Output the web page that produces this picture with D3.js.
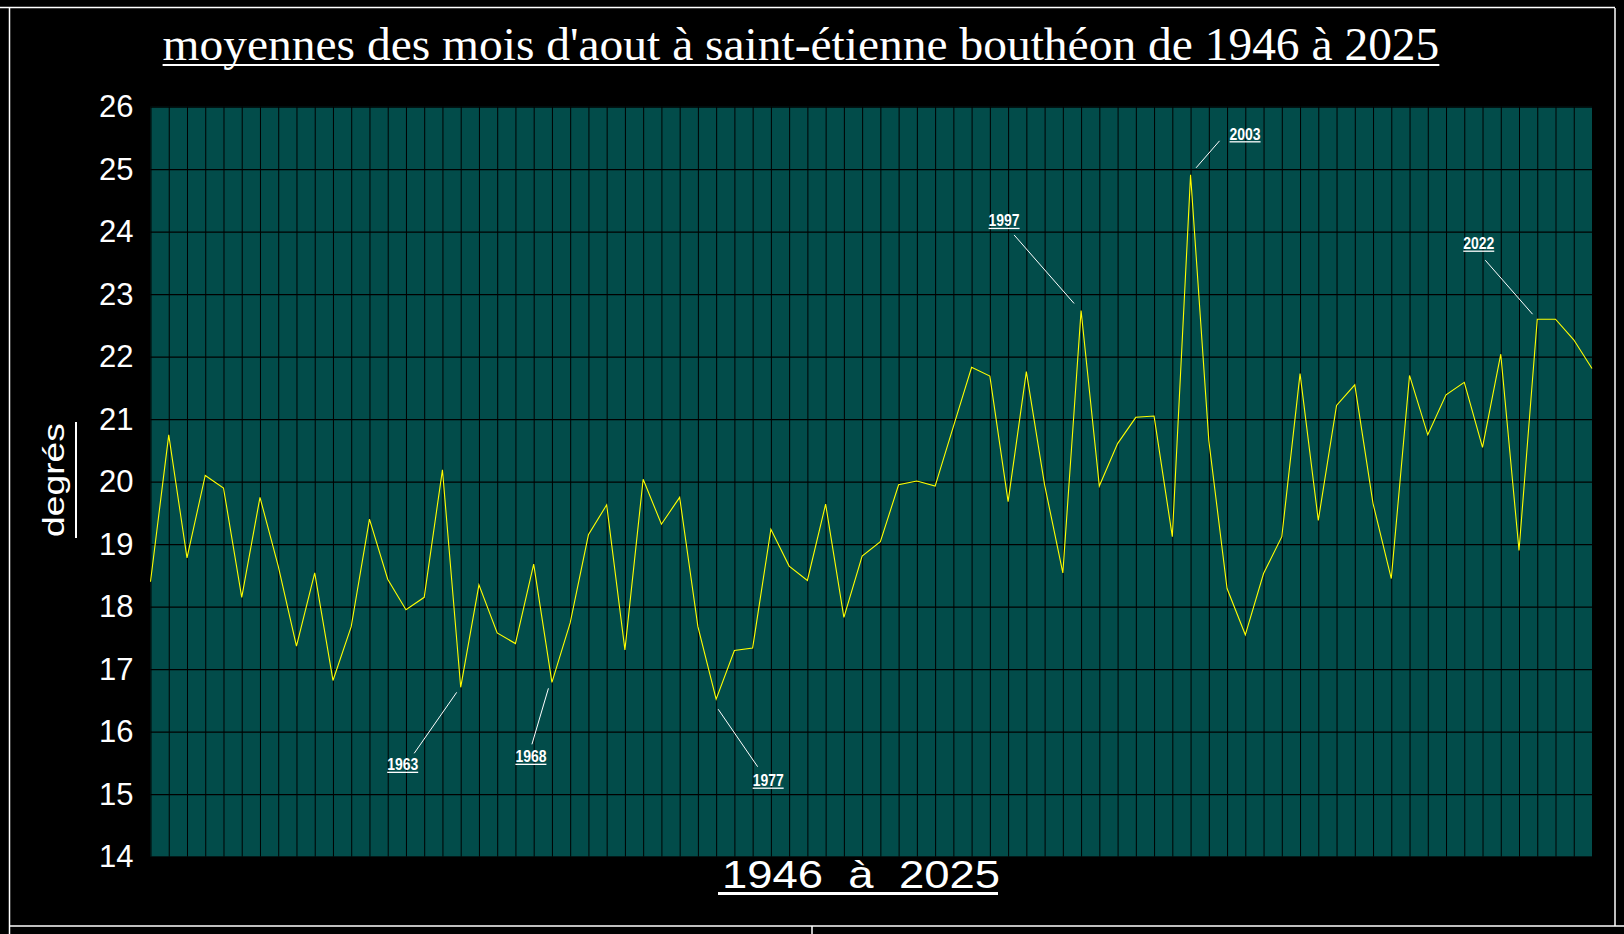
<!DOCTYPE html>
<html>
<head>
<meta charset="utf-8">
<script src="https://cdn.jsdelivr.net/npm/d3@7"></script>
<style>
  html, body { margin: 0; padding: 0; background: #000; }
  svg { display: block; }
</style>
</head>
<body>
<div id="chart"></div>
<script>
// august mean temperatures, saint-etienne boutheon
const years = [1946, 1947, 1948, 1949, 1950, 1951, 1952, 1953, 1954, 1955,
  1956, 1957, 1958, 1959, 1960, 1961, 1962, 1963, 1964, 1965,
  1966, 1967, 1968, 1969, 1970, 1971, 1972, 1973, 1974, 1975,
  1976, 1977, 1978, 1979, 1980, 1981, 1982, 1983, 1984, 1985,
  1986, 1987, 1988, 1989, 1990, 1991, 1992, 1993, 1994, 1995,
  1996, 1997, 1998, 1999, 2000, 2001, 2002, 2003, 2004, 2005,
  2006, 2007, 2008, 2009, 2010, 2011, 2012, 2013, 2014, 2015,
  2016, 2017, 2018, 2019, 2020, 2021, 2022, 2023, 2024, 2025];

const temps = [18.4, 20.75, 18.78, 20.1, 19.9, 18.15, 19.75, 18.65, 17.37, 18.54,
  16.82, 17.68, 19.4, 18.44, 17.95, 18.15, 20.19, 16.71, 18.35, 17.58,
  17.41, 18.68, 16.79, 17.74, 19.15, 19.63, 17.31, 20.04, 19.32, 19.75,
  17.68, 16.52, 17.3, 17.34, 19.24, 18.65, 18.42, 19.64, 17.83, 18.81,
  19.04, 19.95, 20.01, 19.93, 20.88, 21.83, 21.69, 19.68, 21.76, 19.95,
  18.54, 22.74, 19.93, 20.61, 21.03, 21.05, 19.12, 24.91, 20.66, 18.29,
  17.55, 18.53, 19.12, 21.73, 19.38, 21.22, 21.55, 19.65, 18.45, 21.7,
  20.75, 21.39, 21.59, 20.55, 22.04, 18.9, 22.6, 22.6, 22.27, 21.81];

const yTicks = [14, 15, 16, 17, 18, 19, 20, 21, 22, 23, 24, 25, 26];
const noteYears = [1963, 1968, 1977, 1997, 2003, 2022];

const titleText = "moyennes des mois d'aout à saint-étienne bouthéon de 1946 à 2025";
const xTitle = "1946  à  2025";
const yTitle = "degrés";

// label placement relative to the point: [label dx, label dy, leader start dx, dy, leader end dx, dy]
const noteOffsets = {
  1963: [-58, 83, -46.5, 66, -4, 5],
  1968: [-21, 80, -20, 62, -3.5, 6],
  1977: [52, 87, 41.5, 67.5, 2, 10],
  1997: [-77, -84, -67, -75.5, -7, -7],
  2003: [54.5, -35, 29, -34, 5.5, -7],
  2022: [-58.5, -70, -52, -59, -4.7, -5]
};

const W = 1624, H = 934;
const plot = { left: 150.5, right: 1592, top: 106.7, bottom: 856.7 };

const data = years.map((y, i) => ({ year: y, t: temps[i] }));

const svg = d3.select("#chart").append("svg")
  .attr("width", W)
  .attr("height", H)
  .style("background", "#000");

const x = d3.scaleLinear()
  .domain([years[0], years[years.length - 1]])
  .range([plot.left, plot.right]);

const y = d3.scaleLinear()
  .domain([yTicks[0], yTicks[yTicks.length - 1]])
  .range([plot.bottom, plot.top]);

// outer frame
const frame = svg.append("g").attr("stroke", "#fff").attr("stroke-width", 1.5);
frame.append("line").attr("x1", 0).attr("x2", 1615).attr("y1", 7.5).attr("y2", 7.5);
frame.append("line").attr("x1", 9.5).attr("x2", 9.5).attr("y1", 8).attr("y2", H);
frame.append("line").attr("x1", 1615).attr("x2", 1615).attr("y1", 8).attr("y2", 926);
frame.append("line").attr("x1", 9.5).attr("x2", W).attr("y1", 926).attr("y2", 926);
frame.append("line").attr("x1", 812).attr("x2", 812).attr("y1", 926).attr("y2", H);

// plot area
svg.append("rect")
  .attr("x", plot.left)
  .attr("y", plot.top)
  .attr("width", plot.right - plot.left)
  .attr("height", plot.bottom - plot.top)
  .attr("fill", "#024c4a");

// vertical grid, one per year
svg.append("g")
  .attr("transform", `translate(0,${plot.bottom})`)
  .call(d3.axisBottom(x).tickValues(years).tickSize(-(plot.bottom - plot.top)).tickFormat(""))
  .call(g => g.select(".domain").remove())
  .call(g => g.selectAll("line").attr("stroke", "#000").attr("stroke-width", 1));

// horizontal grid
svg.append("g")
  .attr("transform", `translate(${plot.left},0)`)
  .call(d3.axisLeft(y).tickValues(yTicks).tickSize(-(plot.right - plot.left)).tickFormat(""))
  .call(g => g.select(".domain").remove())
  .call(g => g.selectAll("line").attr("stroke", "#000").attr("stroke-width", 1.2));

// y tick labels
svg.append("g")
  .attr("transform", `translate(${plot.left},0)`)
  .call(d3.axisLeft(y).tickValues(yTicks).tickSize(0).tickPadding(17))
  .call(g => g.select(".domain").remove())
  .call(g => g.selectAll("text")
    .attr("fill", "#fff")
    .style("font-family", "'Liberation Sans', Arial, sans-serif")
    .style("font-size", "31px"));

// the series
const line = d3.line()
  .x(d => x(d.year))
  .y(d => y(d.t));

svg.append("path")
  .datum(data)
  .attr("d", line)
  .attr("fill", "none")
  .attr("stroke", "#ffff00")
  .attr("stroke-width", 1.1);

// annotations
const notes = svg.append("g");
noteYears.forEach(yr => {
  const d = data.find(p => p.year === yr);
  const o = noteOffsets[yr];
  const px = x(d.year), py = y(d.t);
  notes.append("line")
    .attr("x1", px + o[2]).attr("y1", py + o[3])
    .attr("x2", px + o[4]).attr("y2", py + o[5])
    .attr("stroke", "#fff").attr("stroke-width", 1);
  notes.append("text")
    .attr("x", px + o[0]).attr("y", py + o[1])
    .attr("text-anchor", "middle")
    .attr("fill", "#fff")
    .attr("textLength", 31)
    .attr("lengthAdjust", "spacingAndGlyphs")
    .style("font-family", "'Liberation Sans Narrow', 'Liberation Sans', sans-serif")
    .style("font-weight", "bold")
    .style("font-size", "16px")
    .text(yr);
  notes.append("line")
    .attr("x1", px + o[0] - 15.5).attr("x2", px + o[0] + 15.5)
    .attr("y1", py + o[1] + 2).attr("y2", py + o[1] + 2)
    .attr("stroke", "#fff").attr("stroke-width", 1.3);
});

// title
const title = svg.append("text")
  .attr("x", 162.6)
  .attr("y", 60)
  .attr("fill", "#fff")
  .style("font-family", "'Liberation Serif', 'Times New Roman', serif")
  .style("font-size", "46px")
  .text(titleText);
const tw = title.node().getComputedTextLength();
const fs = 46 * 1277 / tw;
title.style("font-size", fs + "px");
const tw2 = title.node().getComputedTextLength();
svg.append("line")
  .attr("x1", 162.6).attr("x2", 162.6 + tw2)
  .attr("y1", 65).attr("y2", 65)
  .attr("stroke", "#fff").attr("stroke-width", 2);

// x title
svg.append("text")
  .attr("x", 861)
  .attr("y", 888)
  .attr("text-anchor", "middle")
  .attr("fill", "#fff")
  .attr("textLength", 278)
  .attr("lengthAdjust", "spacingAndGlyphs")
  .style("white-space", "pre")
  .style("font-family", "'Liberation Sans', Arial, sans-serif")
  .style("font-size", "39px")
  .text(xTitle);
svg.append("line")
  .attr("x1", 718).attr("x2", 998)
  .attr("y1", 893.5).attr("y2", 893.5)
  .attr("stroke", "#fff").attr("stroke-width", 3);

// y title
const yt = svg.append("g").attr("transform", "translate(64,480) rotate(-90)");
yt.append("text")
  .attr("text-anchor", "middle")
  .attr("fill", "#fff")
  .attr("textLength", 114)
  .attr("lengthAdjust", "spacingAndGlyphs")
  .style("font-family", "'Liberation Sans', Arial, sans-serif")
  .style("font-size", "30px")
  .text(yTitle);
yt.append("line")
  .attr("x1", -58).attr("x2", 58)
  .attr("y1", 12).attr("y2", 12)
  .attr("stroke", "#fff").attr("stroke-width", 2);
</script>
</body>
</html>
